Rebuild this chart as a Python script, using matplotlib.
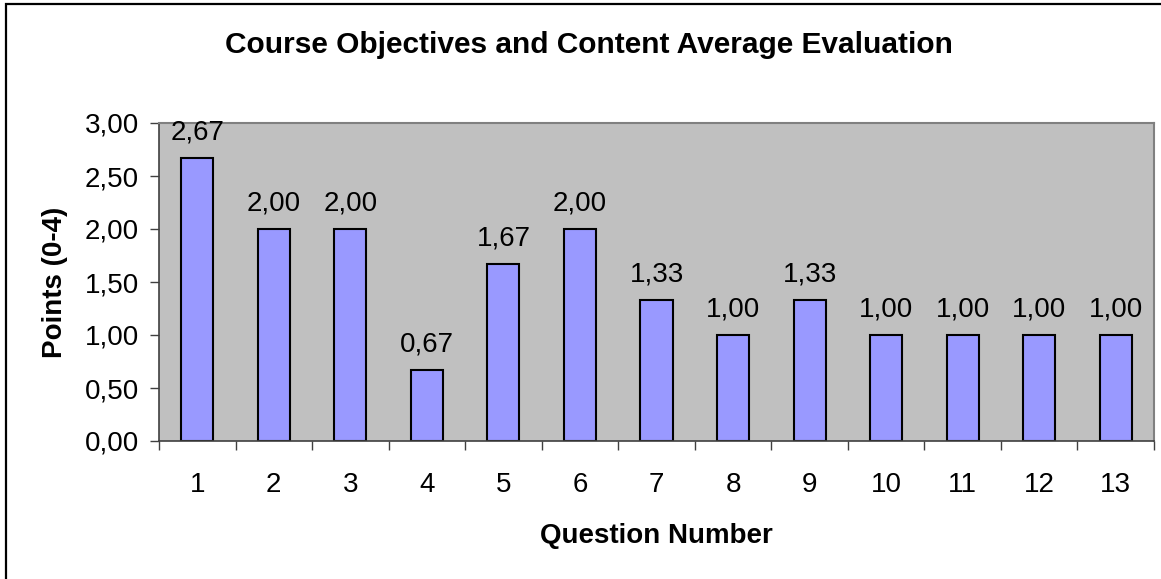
import matplotlib.pyplot as plt
from matplotlib.patches import Rectangle
from matplotlib.ticker import FuncFormatter, MultipleLocator

plt.rcParams["font.family"] = ["Liberation Sans", "DejaVu Sans"]

questions = [str(i) for i in range(1, 14)]
averages = [2.67, 2.00, 2.00, 0.67, 1.67, 2.00, 1.33, 1.00, 1.33, 1.00, 1.00, 1.00, 1.00]
y_ticks = [0.0, 0.5, 1.0, 1.5, 2.0, 2.5, 3.0]


def comma(v, pos=None):
    return f"{v:.2f}".replace(".", ",")


fig = plt.figure(figsize=(11.61, 5.79), dpi=100)
ax = fig.add_axes([159 / 1161, 1 - 441 / 579, (1154 - 159) / 1161, (441 - 123) / 579])
ax.set_facecolor("#C0C0C0")

x = list(range(len(questions)))
bars = ax.bar(x, averages, width=0.42, color="#9999FF", edgecolor="black", linewidth=1.5)
for xi, v in zip(x, averages):
    ax.annotate(comma(v), (xi, v), xytext=(0, 13), textcoords="offset points",
                ha="center", va="baseline", fontsize=20)

ax.set_xlim(-0.5, len(questions) - 0.5)
ax.set_ylim(0, 3)
ax.set_yticks(y_ticks)
ax.yaxis.set_major_formatter(FuncFormatter(comma))
ax.set_xticks(x)
ax.set_xticklabels(questions)
ax.xaxis.set_minor_locator(MultipleLocator(1, offset=0.5))
ax.tick_params(axis="x", which="major", length=0, pad=22, labelsize=20)
ax.tick_params(axis="x", which="minor", length=6.5, width=1, color="#404040")
ax.tick_params(axis="y", length=6.5, width=1, color="#404040", pad=8, labelsize=20)

for side in ["top", "right"]:
    ax.spines[side].set_color("#808080")
    ax.spines[side].set_linewidth(1.5)
for side in ["left", "bottom"]:
    ax.spines[side].set_color("#404040")
    ax.spines[side].set_linewidth(1.2)

fig.text(589 / 1161, 1 - 53 / 579, "Course Objectives and Content Average Evaluation",
         fontsize=21.5, fontweight="bold", ha="center", va="baseline")
ax.set_xlabel("Question Number", fontsize=20, fontweight="bold", labelpad=18)
ax.set_ylabel("Points (0-4)", fontsize=20, fontweight="bold", labelpad=12)

fig.patches.append(Rectangle((6 / 1161, -0.1), 1.2, 1 - 4 / 579 + 0.1,
                             transform=fig.transFigure, fill=False,
                             edgecolor="black", linewidth=1.6))

fig.savefig("out.png", dpi=100)
